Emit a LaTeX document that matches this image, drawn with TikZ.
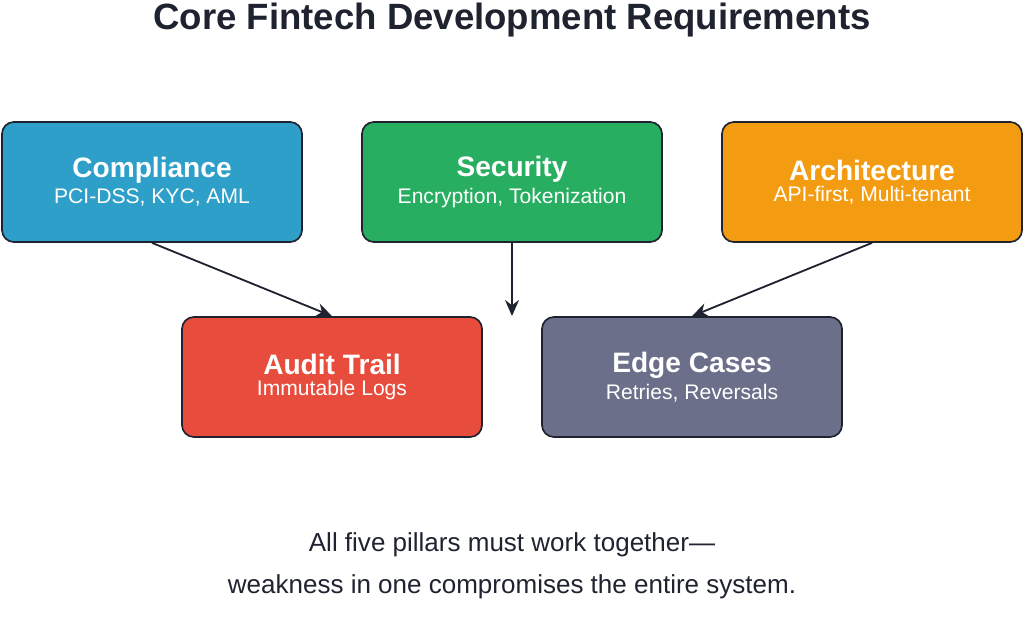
\documentclass[tikz,border=0pt]{standalone}
\usepackage{fontspec}
\setmainfont{Liberation Sans}
\usetikzlibrary{positioning,arrows.meta}
\definecolor{colorComp}{HTML}{2E9FC9}
\definecolor{colorSec}{HTML}{27AE60}
\definecolor{colorArch}{HTML}{F39C12}
\definecolor{colorAudit}{HTML}{E74C3C}
\definecolor{colorEdge}{HTML}{6B6F8A}
\definecolor{colorLine}{HTML}{1F2330}
\tikzset{
   every path/.style={>={Stealth[length=4mm,width=3.5mm]}},
   pillar/.style={draw=colorLine,line width=1.2pt,rounded corners=3mm,fill=#1,
     minimum width=7.5cm,minimum height=3cm,text=white,align=center,inner sep=0pt},
   link/.style={->,color=colorLine,line width=1.3pt},
}
\newcommand{\pillartext}[2]{{\fontsize{20}{24}\selectfont\bfseries #1}\\[1mm]{\fontsize{15}{18}\selectfont #2}}
\begin{document}
\begin{tikzpicture}[x=0.025cm,y=-0.025cm]
        \useasboundingbox[fill=white] (0,0) rectangle (1024,619);

        \node[text=colorLine,font=\fontsize{26}{30}\selectfont\bfseries] (title) at (512,20) {Core Fintech Development Requirements};

        \node[pillar=colorComp] (comp) at (152,182) {\pillartext{Compliance}{PCI-DSS, KYC, AML}};
        \node[pillar=colorSec]  (sec)  at (512,182) {\pillartext{Security}{Encryption, Tokenization}};
        \node[pillar=colorArch] (arch) at (872,182) {\pillartext{Architecture}{API-first, Multi-tenant}};

        \node[pillar=colorAudit] (audit) at (332,377) {\pillartext{Audit Trail}{Immutable Logs}};
        \node[pillar=colorEdge]  (edge)  at (692,377) {\pillartext{Edge Cases}{Retries, Reversals}};

        \coordinate (mid) at (512,316);

        \draw[link] (comp.south) -- (audit.north);
        \draw[link] (sec.south) -- (mid);
        \draw[link] (arch.south) -- (edge.north);

        \node[text=colorLine,align=center,font=\fontsize{18.5}{30}\selectfont] (note) at (512,566)
          {All five pillars must work together—\\weakness in one compromises the entire system.};

\end{tikzpicture}
\end{document}
